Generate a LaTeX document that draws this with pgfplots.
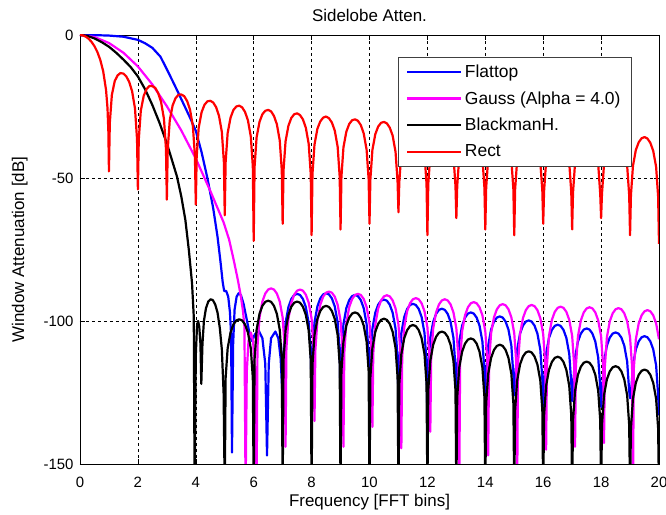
\documentclass[border=0pt]{standalone}
\usepackage{pgfplots}
\pgfplotsset{compat=1.18}
\usepackage{fontspec}
\setmainfont{Liberation Sans}
\definecolor{mblue}{RGB}{0,0,255}
\definecolor{mmag}{RGB}{255,0,255}
\definecolor{mred}{RGB}{255,0,0}
\begin{document}
\begin{tikzpicture}
\useasboundingbox (-80bp,-51bp) rectangle (586bp,464bp);
\begin{axis}[
  scale only axis, width=579bp, height=429bp,
  xmin=0, xmax=20, ymin=-150, ymax=0,
  xtick={0,2,...,20}, xticklabels={0,2,4,6,8,10,12,14,16,18,20},
  ytick={-150,-100,-50,0}, yticklabels={-150,-100,-50,0},
  tick align=inside, major tick length=5bp,
  tick style={black, line width=0.6bp},
  axis line style={black, line width=0.8bp},
  grid=major,
  major grid style={black, line width=0.6bp, dash pattern=on 3bp off 3bp},
  ticklabel style={font=\fontsize{15}{17}\selectfont},
  xticklabel style={anchor=base, yshift=-23bp},
  yticklabel style={xshift=-3bp},
  title={Sidelobe Atten.},
  title style={at={(axis description cs:0.5,1.0186)}, anchor=base, font=\fontsize{17}{20}\selectfont},
  xlabel={Frequency [FFT bins]},
  xlabel style={at={(axis description cs:0.5,-0.1002)}, anchor=base, font=\fontsize{17}{20}\selectfont},
  ylabel={Window Attenuation [dB]},
  ylabel style={at={(axis description cs:-0.0967,0.5)}, anchor=base, font=\fontsize{17}{20}\selectfont},
  legend cell align=left,
  legend image code/.code={\draw[#1] (0bp,0bp) -- (54bp,0bp);},
  legend style={at={(axis description cs:0.549,0.949)}, anchor=north west,
    draw=black!75, line width=0.8bp, fill=white,
    font=\fontsize{17.5}{20}\selectfont,
    inner xsep=8bp, inner ysep=5bp, row sep=7.6bp,
    nodes={inner sep=2.5bp}},
  every axis plot/.append style={line width=2.2bp, line join=round},
  clip=true,
]
% Flattop
\addplot[mblue] coordinates {
(0,0)(0.5,-0.05)(1,-0.2)(1.5,-0.6)(2,-1.7)(2.25,-2.9)(2.5,-4.5)(2.78,-7.6)(3,-12.0)(3.2,-16.1)(3.4,-20.3)(3.6,-24.6)(3.8,-28.9)(4,-33.5)(4.2,-41)(4.4,-50)(4.6,-60.5)(4.75,-70.5)(4.85,-79)(4.93,-86.5)(4.98,-89.5)(5.05,-89.5)(5.12,-91.5)(5.18,-97)(5.22,-105)(5.25,-146)(5.29,-108)(5.34,-96)(5.41,-91.5)(5.48,-90.3)(5.56,-91)(5.65,-94)(5.75,-99)(5.85,-104)(5.94,-107)(6.05,-104.5)(6.18,-103.5)(6.3,-106)(6.4,-115)(6.46,-147)(6.52,-115)(6.6,-106)(6.75,-103.7)(6.85,-106)(6.93,-113)(7,-127.6)
(7.03,-111.0)(7.1,-100.7)(7.2,-95.1)(7.3,-92.3)(7.4,-90.9)(7.5,-90.5)(7.6,-90.9)(7.7,-92.3)(7.8,-95.1)(7.9,-100.7)(7.97,-111.0)(8,-125)
(8.03,-110.8)(8.1,-100.5)(8.2,-94.9)(8.3,-92.1)(8.4,-90.7)(8.5,-90.3)(8.6,-90.7)(8.7,-92.1)(8.8,-94.9)(8.9,-100.5)(8.97,-110.8)(9,-130)
(9.03,-111.4)(9.1,-101.1)(9.2,-95.5)(9.3,-92.7)(9.4,-91.3)(9.5,-90.9)(9.6,-91.3)(9.7,-92.7)(9.8,-95.5)(9.9,-101.1)(9.97,-111.4)(10,-118)
(10.03,-113.0)(10.1,-102.7)(10.2,-97.1)(10.3,-94.3)(10.4,-92.9)(10.5,-92.5)(10.6,-92.9)(10.7,-94.3)(10.8,-97.1)(10.9,-102.7)(10.97,-113.0)(11,-128)
(11.03,-114.5)(11.1,-104.2)(11.2,-98.6)(11.3,-95.8)(11.4,-94.4)(11.5,-94.0)(11.6,-94.4)(11.7,-95.8)(11.8,-98.6)(11.9,-104.2)(11.97,-114.5)(12,-136)
(12.03,-116.2)(12.1,-105.9)(12.2,-100.3)(12.3,-97.5)(12.4,-96.1)(12.5,-95.7)(12.6,-96.1)(12.7,-97.5)(12.8,-100.3)(12.9,-105.9)(12.97,-116.2)(13,-123)
(13.03,-117.5)(13.1,-107.2)(13.2,-101.6)(13.3,-98.8)(13.4,-97.4)(13.5,-97.0)(13.6,-97.4)(13.7,-98.8)(13.8,-101.6)(13.9,-107.2)(13.97,-117.5)(14,-130)
(14.03,-118.9)(14.1,-108.6)(14.2,-103.0)(14.3,-100.2)(14.4,-98.8)(14.5,-98.4)(14.6,-98.8)(14.7,-100.2)(14.8,-103.0)(14.9,-108.6)(14.97,-118.9)(15,-126)
(15.03,-120.3)(15.1,-110.0)(15.2,-104.4)(15.3,-101.6)(15.4,-100.2)(15.5,-99.8)(15.6,-100.2)(15.7,-101.6)(15.8,-104.4)(15.9,-110.0)(15.97,-120.3)(16,-132)
(16.03,-121.8)(16.1,-111.5)(16.2,-105.9)(16.3,-103.1)(16.4,-101.7)(16.5,-101.3)(16.6,-101.7)(16.7,-103.1)(16.8,-105.9)(16.9,-111.5)(16.97,-121.8)(17,-128)
(17.03,-123.1)(17.1,-112.8)(17.2,-107.2)(17.3,-104.4)(17.4,-103.0)(17.5,-102.6)(17.6,-103.0)(17.7,-104.4)(17.8,-107.2)(17.9,-112.8)(17.97,-123.1)(18,-130)
(18.03,-124.5)(18.1,-114.2)(18.2,-108.6)(18.3,-105.8)(18.4,-104.4)(18.5,-104.0)(18.6,-104.4)(18.7,-105.8)(18.8,-108.6)(18.9,-114.2)(18.97,-124.5)(19,-127)
(19.03,-125.8)(19.1,-115.5)(19.2,-109.9)(19.3,-107.1)(19.4,-105.7)(19.5,-105.3)(19.6,-105.7)(19.7,-107.1)(19.8,-109.9)(19.9,-115.5)(19.97,-125.8)(20,-133)
};
\addlegendentry{Flattop}
% Gauss
\addplot[mmag] coordinates {
(0,0)(0.5,-0.7)(1,-2.8)(1.5,-6.2)(2,-11)(2.5,-17.3)(3,-24.9)(3.5,-33.4)(4,-43.2)(4.5,-54.5)(4.96,-65.5)(5.15,-71.5)(5.31,-78.7)(5.45,-85.5)(5.55,-91)(5.63,-96.5)(5.68,-102)(5.72,-160)(5.76,-118)(5.82,-107)(5.9,-104)(5.98,-107)(6.04,-118)(6.1,-160)
(6.13,-109.1)(6.2,-98.8)(6.3,-93.2)(6.4,-90.4)(6.5,-89.0)(6.6,-88.6)(6.7,-89.0)(6.8,-90.4)(6.9,-93.2)(7.0,-98.8)(7.07,-109.1)(7.1,-144)
(7.13,-109.5)(7.2,-99.2)(7.3,-93.6)(7.4,-90.8)(7.5,-89.4)(7.6,-89.0)(7.7,-89.4)(7.8,-90.8)(7.9,-93.6)(8.0,-99.2)(8.07,-109.5)(8.1,-135)
(8.13,-110.2)(8.2,-99.9)(8.3,-94.3)(8.4,-91.5)(8.5,-90.1)(8.6,-89.7)(8.7,-90.1)(8.8,-91.5)(8.9,-94.3)(9.0,-99.9)(9.07,-110.2)(9.1,-144)
(9.13,-111.0)(9.2,-100.7)(9.3,-95.1)(9.4,-92.3)(9.5,-90.9)(9.6,-90.5)(9.7,-90.9)(9.8,-92.3)(9.9,-95.1)(10.0,-100.7)(10.07,-111.0)(10.1,-137)
(10.13,-111.5)(10.2,-101.2)(10.3,-95.6)(10.4,-92.8)(10.5,-91.4)(10.6,-91.0)(10.7,-91.4)(10.8,-92.8)(10.9,-95.6)(11.0,-101.2)(11.07,-111.5)(11.1,-144.5)
(11.13,-112.5)(11.2,-102.2)(11.3,-96.6)(11.4,-93.8)(11.5,-92.4)(11.6,-92.0)(11.7,-92.4)(11.8,-93.8)(11.9,-96.6)(12.0,-102.2)(12.07,-112.5)(12.1,-138.7)
(12.13,-112.9)(12.2,-102.6)(12.3,-97.0)(12.4,-94.2)(12.5,-92.8)(12.6,-92.4)(12.7,-92.8)(12.8,-94.2)(12.9,-97.0)(13.0,-102.6)(13.07,-112.9)(13.1,-160)
(13.13,-113.9)(13.2,-103.6)(13.3,-98.0)(13.4,-95.2)(13.5,-93.8)(13.6,-93.4)(13.7,-93.8)(13.8,-95.2)(13.9,-98.0)(14.0,-103.6)(14.07,-113.9)(14.1,-147)
(14.13,-114.6)(14.2,-104.3)(14.3,-98.7)(14.4,-95.9)(14.5,-94.5)(14.6,-94.1)(14.7,-94.5)(14.8,-95.9)(14.9,-98.7)(15.0,-104.3)(15.07,-114.6)(15.1,-160)
(15.13,-114.9)(15.2,-104.6)(15.3,-99.0)(15.4,-96.2)(15.5,-94.8)(15.6,-94.4)(15.7,-94.8)(15.8,-96.2)(15.9,-99.0)(16.0,-104.6)(16.07,-114.9)(16.1,-145)
(16.13,-115.5)(16.2,-105.2)(16.3,-99.6)(16.4,-96.8)(16.5,-95.4)(16.6,-95.0)(16.7,-95.4)(16.8,-96.8)(16.9,-99.6)(17.0,-105.2)(17.07,-115.5)(17.1,-144)
(17.13,-115.7)(17.2,-105.4)(17.3,-99.8)(17.4,-97.0)(17.5,-95.6)(17.6,-95.2)(17.7,-95.6)(17.8,-97.0)(17.9,-99.8)(18.0,-105.4)(18.07,-115.7)(18.1,-142.7)
(18.13,-116.0)(18.2,-105.7)(18.3,-100.1)(18.4,-97.3)(18.5,-95.9)(18.6,-95.5)(18.7,-95.9)(18.8,-97.3)(18.9,-100.1)(19.0,-105.7)(19.07,-116.0)(19.1,-160)
(19.13,-116.7)(19.2,-106.4)(19.3,-100.8)(19.4,-98.0)(19.5,-96.6)(19.6,-96.2)(19.7,-96.6)(19.8,-98.0)(19.9,-100.8)(20.0,-106.4)
};
\addlegendentry{Gauss (Alpha = 4.0)}
% BlackmanH
\addplot[black] coordinates {
(0,0)(0.25,-0.3)(0.5,-1.2)(0.75,-2.5)(1,-4.1)(1.25,-6.2)(1.5,-8.6)(1.75,-11.2)(2,-14.5)(2.25,-19.0)(2.5,-24.5)(2.75,-30.8)(3,-37.9)(3.2,-44.5)(3.35,-49.5)(3.5,-56.5)(3.64,-64.7)(3.76,-75.2)(3.87,-86.8)(3.93,-98.5)(3.96,-160)(4.0,-112)(4.04,-102)(4.08,-100)(4.12,-102)(4.16,-108)(4.19,-122)(4.23,-108)(4.28,-100)(4.35,-95.6)(4.43,-93.2)(4.51,-92.4)(4.59,-92.7)(4.67,-94.2)(4.75,-97)(4.83,-102.5)(4.9,-110)(4.96,-125)(5.0,-160)
(5.03,-119.9)(5.1,-109.6)(5.2,-104.0)(5.3,-101.2)(5.4,-99.8)(5.5,-99.4)(5.6,-99.8)(5.7,-101.2)(5.8,-104.0)(5.9,-109.6)(5.97,-119.9)(6,-160)
(6.03,-113.4)(6.1,-103.1)(6.2,-97.5)(6.3,-94.7)(6.4,-93.3)(6.5,-92.9)(6.6,-93.3)(6.7,-94.7)(6.8,-97.5)(6.9,-103.1)(6.97,-113.4)(7,-160)
(7.03,-113.7)(7.1,-103.4)(7.2,-97.8)(7.3,-95.0)(7.4,-93.6)(7.5,-93.2)(7.6,-93.6)(7.7,-95.0)(7.8,-97.8)(7.9,-103.4)(7.97,-113.7)(8,-160)
(8.03,-115.2)(8.1,-104.9)(8.2,-99.3)(8.3,-96.5)(8.4,-95.1)(8.5,-94.7)(8.6,-95.1)(8.7,-96.5)(8.8,-99.3)(8.9,-104.9)(8.97,-115.2)(9,-160)
(9.03,-117.5)(9.1,-107.2)(9.2,-101.6)(9.3,-98.8)(9.4,-97.4)(9.5,-97.0)(9.6,-97.4)(9.7,-98.8)(9.8,-101.6)(9.9,-107.2)(9.97,-117.5)(10,-160)
(10.03,-119.7)(10.1,-109.4)(10.2,-103.8)(10.3,-101.0)(10.4,-99.6)(10.5,-99.2)(10.6,-99.6)(10.7,-101.0)(10.8,-103.8)(10.9,-109.4)(10.97,-119.7)(11,-160)
(11.03,-121.9)(11.1,-111.6)(11.2,-106.0)(11.3,-103.2)(11.4,-101.8)(11.5,-101.4)(11.6,-101.8)(11.7,-103.2)(11.8,-106.0)(11.9,-111.6)(11.97,-121.9)(12,-160)
(12.03,-124.2)(12.1,-113.9)(12.2,-108.3)(12.3,-105.5)(12.4,-104.1)(12.5,-103.7)(12.6,-104.1)(12.7,-105.5)(12.8,-108.3)(12.9,-113.9)(12.97,-124.2)(13,-160)
(13.03,-126.6)(13.1,-116.3)(13.2,-110.7)(13.3,-107.9)(13.4,-106.5)(13.5,-106.1)(13.6,-106.5)(13.7,-107.9)(13.8,-110.7)(13.9,-116.3)(13.97,-126.6)(14,-160)
(14.03,-128.8)(14.1,-118.5)(14.2,-112.9)(14.3,-110.1)(14.4,-108.7)(14.5,-108.3)(14.6,-108.7)(14.7,-110.1)(14.8,-112.9)(14.9,-118.5)(14.97,-128.8)(15,-160)
(15.03,-131.1)(15.1,-120.8)(15.2,-115.2)(15.3,-112.4)(15.4,-111.0)(15.5,-110.6)(15.6,-111.0)(15.7,-112.4)(15.8,-115.2)(15.9,-120.8)(15.97,-131.1)(16,-160)
(16.03,-133.0)(16.1,-122.7)(16.2,-117.1)(16.3,-114.3)(16.4,-112.9)(16.5,-112.5)(16.6,-112.9)(16.7,-114.3)(16.8,-117.1)(16.9,-122.7)(16.97,-133.0)(17,-160)
(17.03,-134.7)(17.1,-124.4)(17.2,-118.8)(17.3,-116.0)(17.4,-114.6)(17.5,-114.2)(17.6,-114.6)(17.7,-116.0)(17.8,-118.8)(17.9,-124.4)(17.97,-134.7)(18,-160)
(18.03,-136.3)(18.1,-126.0)(18.2,-120.4)(18.3,-117.6)(18.4,-116.2)(18.5,-115.8)(18.6,-116.2)(18.7,-117.6)(18.8,-120.4)(18.9,-126.0)(18.97,-136.3)(19,-160)
(19.03,-137.5)(19.1,-127.2)(19.2,-121.6)(19.3,-118.8)(19.4,-117.4)(19.5,-117.0)(19.6,-117.4)(19.7,-118.8)(19.8,-121.6)(19.9,-127.2)(19.97,-137.5)(20,-160)
};
\addlegendentry{BlackmanH.}
% Rect
\addplot[mred] coordinates {
(0,0)(0.1,-0.14)(0.2,-0.58)(0.3,-1.33)(0.4,-2.42)(0.5,-3.92)(0.6,-5.94)(0.7,-8.69)(0.8,-12.62)(0.9,-19.23)(0.95,-25.6)(0.98,-33.8)(1,-47.7)
(1.03,-30.7)(1.1,-21.0)(1.2,-16.1)(1.3,-14.1)(1.4,-13.3)(1.5,-13.5)(1.6,-14.5)(1.7,-16.4)(1.8,-19.7)(1.9,-25.7)(1.97,-36.4)(2,-54)
(2.03,-36.6)(2.1,-26.5)(2.2,-21.3)(2.3,-18.9)(2.4,-17.8)(2.5,-17.9)(2.6,-18.5)(2.7,-20.3)(2.8,-23.4)(2.9,-29.3)(2.97,-39.9)(3,-57.6)
(3.03,-40.1)(3.1,-29.9)(3.2,-24.6)(3.3,-22.1)(3.4,-20.9)(3.5,-20.8)(3.6,-21.4)(3.7,-23.1)(3.8,-26.1)(3.9,-31.9)(3.97,-42.4)(4,-59.3)
(4.03,-42.6)(4.1,-32.4)(4.2,-27.0)(4.3,-24.4)(4.4,-23.2)(4.5,-23.0)(4.6,-23.6)(4.7,-25.2)(4.8,-28.2)(4.9,-33.9)(4.97,-44.4)(5,-63)
(5.03,-44.5)(5.1,-34.3)(5.2,-28.9)(5.3,-26.2)(5.4,-25.0)(5.5,-24.7)(5.6,-25.3)(5.7,-26.9)(5.8,-29.8)(5.9,-35.5)(5.97,-46.0)(6,-72)
(6.03,-46.1)(6.1,-35.8)(6.2,-30.4)(6.3,-27.7)(6.4,-26.5)(6.5,-26.2)(6.6,-26.7)(6.7,-28.3)(6.8,-31.2)(6.9,-36.9)(6.97,-47.3)(7,-66)
(7.03,-47.4)(7.1,-37.2)(7.2,-31.7)(7.3,-29.0)(7.4,-27.7)(7.5,-27.4)(7.6,-28.0)(7.7,-29.5)(7.8,-32.4)(7.9,-38.1)(7.97,-48.5)(8,-70)
(8.03,-48.6)(8.1,-38.3)(8.2,-32.8)(8.3,-30.2)(8.4,-28.9)(8.5,-28.5)(8.6,-29.1)(8.7,-30.6)(8.8,-33.4)(8.9,-39.1)(8.97,-49.5)(9,-68)
(9.03,-49.6)(9.1,-39.3)(9.2,-33.8)(9.3,-31.1)(9.4,-29.8)(9.5,-29.5)(9.6,-30.0)(9.7,-31.5)(9.8,-34.4)(9.9,-40.1)(9.97,-50.4)(10,-66)
(10.03,-50.5)(10.1,-40.2)(10.2,-34.7)(10.3,-32.0)(10.4,-30.7)(10.5,-30.4)(10.6,-30.9)(10.7,-32.4)(10.8,-35.2)(10.9,-40.9)(10.97,-51.3)(11,-62)
(11.03,-51.3)(11.1,-41.1)(11.2,-35.5)(11.3,-32.8)(11.4,-31.5)(11.5,-31.2)(11.6,-31.7)(11.7,-33.1)(11.8,-36.0)(11.9,-41.7)(11.97,-52.0)(12,-70)
(12.03,-52.1)(12.1,-41.8)(12.2,-36.3)(12.3,-33.6)(12.4,-32.2)(12.5,-31.9)(12.6,-32.4)(12.7,-33.9)(12.8,-36.7)(12.9,-42.4)(12.97,-52.7)(13,-64)
(13.03,-52.8)(13.1,-42.5)(13.2,-37.0)(13.3,-34.3)(13.4,-32.9)(13.5,-32.5)(13.6,-33.0)(13.7,-34.5)(13.8,-37.4)(13.9,-43.0)(13.97,-53.4)(14,-68)
(14.03,-53.4)(14.1,-43.1)(14.2,-37.6)(14.3,-34.9)(14.4,-33.5)(14.5,-33.2)(14.6,-33.7)(14.7,-35.1)(14.8,-38.0)(14.9,-43.6)(14.97,-54.0)(15,-70)
(15.03,-54.0)(15.1,-43.7)(15.2,-38.2)(15.3,-35.5)(15.4,-34.1)(15.5,-33.7)(15.6,-34.2)(15.7,-35.7)(15.8,-38.5)(15.9,-44.2)(15.97,-54.5)(16,-66)
(16.03,-54.6)(16.1,-44.3)(16.2,-38.7)(16.3,-36.0)(16.4,-34.7)(16.5,-34.3)(16.6,-34.8)(16.7,-36.2)(16.8,-39.1)(16.9,-44.7)(16.97,-55.1)(17,-68)
(17.03,-55.1)(17.1,-44.8)(17.2,-39.3)(17.3,-36.5)(17.4,-35.2)(17.5,-34.8)(17.6,-35.3)(17.7,-36.7)(17.8,-39.6)(17.9,-45.2)(17.97,-55.6)(18,-64)
(18.03,-55.6)(18.1,-45.3)(18.2,-39.8)(18.3,-37.0)(18.4,-35.7)(18.5,-35.3)(18.6,-35.8)(18.7,-37.2)(18.8,-40.0)(18.9,-45.7)(18.97,-56.0)(19,-70)
(19.03,-56.1)(19.1,-45.8)(19.2,-40.2)(19.3,-37.5)(19.4,-36.1)(19.5,-35.7)(19.6,-36.2)(19.7,-37.7)(19.8,-40.5)(19.9,-46.1)(19.97,-56.5)(20,-73)
};
\addlegendentry{Rect}
\end{axis}
\end{tikzpicture}
\end{document}
